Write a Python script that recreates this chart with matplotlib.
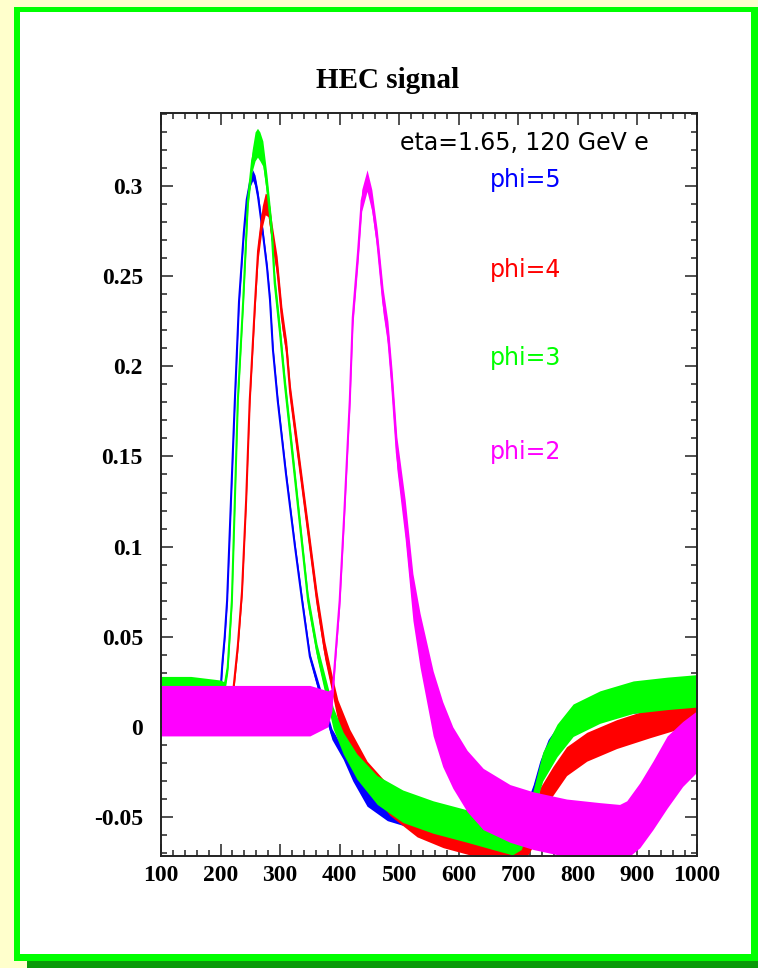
import numpy as np
import matplotlib
matplotlib.use("Agg")
import matplotlib.pyplot as plt
from matplotlib.patches import Rectangle
from matplotlib.ticker import MultipleLocator, FuncFormatter

# canvas size in pixels
W, H = 758, 968

# phi=5 (blue) : time, amplitude, noise half-width
x_phi5 = [100, 150, 195, 200, 203, 207, 211, 218, 224, 231, 239, 244, 250, 254, 258, 263,
          271, 278, 283, 288, 296, 310, 325, 337, 350, 367, 387, 406, 422, 446, 480, 520,
          560, 600, 650, 690, 705, 715, 725, 736, 750, 780, 820, 880, 950, 1000]
y_phi5 = [0.015, 0.015, 0.016, 0.020, 0.035, 0.050, 0.070, 0.130, 0.181, 0.236, 0.274, 0.2925,
          0.303, 0.306, 0.303, 0.294, 0.274, 0.255, 0.237, 0.209, 0.181, 0.140, 0.100, 0.070,
          0.039, 0.019, -0.004, -0.015, -0.026, -0.039, -0.046, -0.050, -0.053, -0.056, -0.059,
          -0.061, -0.052, -0.045, -0.036, -0.024, -0.013, 0.000, 0.008, 0.014, 0.017, 0.019]
w_phi5 = [0.008, 0.008, 0.006, 0.003, 0.002, 0.002, 0.002, 0.002, 0.002, 0.002, 0.002, 0.003,
          0.003, 0.003, 0.003, 0.003, 0.002, 0.002, 0.002, 0.002, 0.002, 0.002, 0.002, 0.002,
          0.002, 0.003, 0.003, 0.003, 0.004, 0.005, 0.006, 0.006, 0.006, 0.007, 0.007, 0.007,
          0.004, 0.004, 0.004, 0.005, 0.006, 0.007, 0.007, 0.007, 0.007, 0.007]

# phi=4 (red)
x_phi4 = [100, 150, 210, 216, 221, 229, 236, 243, 249, 258, 263, 270, 275, 280, 286, 295,
          303, 311, 317, 362, 375, 387, 397, 417, 446, 484, 530, 574, 641, 700, 725, 736,
          758, 781, 815, 865, 921, 976, 1000]
y_phi4 = [0.012, 0.012, 0.012, 0.014, 0.019, 0.045, 0.075, 0.126, 0.181, 0.236, 0.264, 0.283,
          0.290, 0.289, 0.274, 0.255, 0.227, 0.209, 0.185, 0.070, 0.0425, 0.024, 0.009, -0.0074,
          -0.026, -0.041, -0.052, -0.058, -0.064, -0.071, -0.058, -0.041, -0.030, -0.019,
          -0.011, -0.004, 0.002, 0.0075, 0.0075]
w_phi4 = [0.010, 0.010, 0.009, 0.004, 0.003, 0.003, 0.003, 0.003, 0.003, 0.004, 0.005, 0.006,
          0.006, 0.006, 0.006, 0.006, 0.006, 0.005, 0.005, 0.005, 0.005, 0.005, 0.006, 0.006,
          0.007, 0.008, 0.009, 0.009, 0.009, 0.009, 0.008, 0.007, 0.008, 0.008, 0.008, 0.008,
          0.008, 0.008, 0.008]

# phi=3 (green)
x_phi3 = [100, 150, 200, 206, 212, 219, 229, 238, 246, 253, 258, 262, 266, 271, 278, 286,
          291, 300, 308, 347, 362, 375, 389, 406, 429, 463, 506, 557, 614, 657, 690, 705,
          715, 725, 741, 765, 792, 837, 893, 950, 1000]
y_phi3 = [0.018, 0.018, 0.018, 0.021, 0.033, 0.070, 0.181, 0.236, 0.292, 0.314, 0.322, 0.324,
          0.322, 0.318, 0.300, 0.274, 0.246, 0.218, 0.190, 0.070, 0.042, 0.024, 0.005, -0.009,
          -0.022, -0.035, -0.044, -0.050, -0.055, -0.059, -0.062, -0.060, -0.052, -0.041,
          -0.022, -0.0075, 0.0037, 0.011, 0.0165, 0.0186, 0.020]
w_phi3 = [0.010, 0.010, 0.008, 0.004, 0.003, 0.003, 0.003, 0.003, 0.004, 0.006, 0.008, 0.008,
          0.008, 0.007, 0.006, 0.006, 0.005, 0.005, 0.005, 0.004, 0.004, 0.005, 0.006, 0.006,
          0.007, 0.008, 0.009, 0.009, 0.009, 0.009, 0.009, 0.008, 0.006, 0.006, 0.008, 0.009,
          0.009, 0.009, 0.009, 0.009, 0.009]

# phi=2 (magenta)
x_phi2 = [100, 150, 200, 250, 300, 350, 380, 387, 393, 400, 408, 417, 422, 431, 437, 446,
          454, 463, 473, 481, 488, 496, 510, 523, 535, 557, 573, 590, 614, 641, 686, 725,
          781, 837, 870, 882, 904, 926, 950, 976, 1000]
y_phi2 = [0.009, 0.009, 0.009, 0.009, 0.009, 0.009, 0.010, 0.015, 0.040, 0.070, 0.120, 0.181,
          0.227, 0.264, 0.292, 0.303, 0.292, 0.270, 0.236, 0.218, 0.190, 0.152, 0.115, 0.072,
          0.048, 0.013, -0.004, -0.017, -0.030, -0.040, -0.048, -0.052, -0.056, -0.058,
          -0.059, -0.057, -0.049, -0.038, -0.025, -0.015, -0.008]
w_phi2 = [0.014, 0.014, 0.014, 0.014, 0.014, 0.014, 0.010, 0.006, 0.004, 0.004, 0.004, 0.004,
          0.005, 0.006, 0.006, 0.006, 0.006, 0.006, 0.007, 0.007, 0.008, 0.009, 0.011, 0.013,
          0.015, 0.018, 0.018, 0.017, 0.017, 0.017, 0.016, 0.016, 0.016, 0.016, 0.016, 0.016,
          0.018, 0.019, 0.020, 0.018, 0.017]

series = [
    (x_phi5, y_phi5, w_phi5, "#0000FF", "phi=5", 0.3033),
    (x_phi4, y_phi4, w_phi4, "#FF0000", "phi=4", 0.2534),
    (x_phi3, y_phi3, w_phi3, "#00FF00", "phi=3", 0.2045),
    (x_phi2, y_phi2, w_phi2, "#FF00FF", "phi=2", 0.1524),
]

fig = plt.figure(figsize=(W / 100, H / 100), dpi=100)
fig.patch.set_facecolor("#FFFFCC")


def px_rect(x0, y0, x1, y1, color):
    # rectangle given in pixel coords (origin top-left)
    fig.add_artist(Rectangle((x0 / W, 1 - y1 / H), (x1 - x0) / W, (y1 - y0) / H,
                             transform=fig.transFigure, facecolor=color,
                             edgecolor="none", zorder=-10))


# ROOT style canvas frame with shadow
px_rect(27, 950, 760, 968, "#0A9A0A")
px_rect(13.5, 7, 760, 961, "#00FF00")
px_rect(19.5, 12, 750.5, 954, "white")

ax = fig.add_axes([161 / W, 1 - 856 / H, 536 / W, 743 / H])
ax.set_facecolor("white")

for i, (x, y, w, color, label, ty) in enumerate(series):
    x = np.array(x)
    y = np.array(y)
    w = np.array(w)
    ax.fill_between(x, y - w, y + w, color=color, lw=0, zorder=2 + 2 * i)
    ax.plot(x, y, color=color, lw=1.5, zorder=3 + 2 * i)
    ax.text(652, ty, label, color=color, fontsize=17, family="DejaVu Sans",
            ha="left", va="center")

ax.text(501, 0.324, "eta=1.65, 120 GeV e", color="black", fontsize=17,
        family="DejaVu Sans", ha="left", va="center")

ax.set_xlim(100, 1000)
ax.set_ylim(-0.0716, 0.3405)

ax.xaxis.set_major_locator(MultipleLocator(100))
ax.xaxis.set_minor_locator(MultipleLocator(20))
ax.yaxis.set_major_locator(MultipleLocator(0.05))
ax.yaxis.set_minor_locator(MultipleLocator(0.01))
ax.yaxis.set_major_formatter(FuncFormatter(lambda v, p: "%g" % (round(v, 3) + 0.0)))

ax.tick_params(which="both", direction="in", top=True, right=True,
               color="#333333", width=1.2)
ax.tick_params(which="major", length=8.5)
ax.tick_params(which="minor", length=4.3)
ax.tick_params(axis="y", pad=13)
ax.tick_params(axis="x", pad=6.5)
for lab in ax.get_xticklabels() + ax.get_yticklabels():
    lab.set_family("Liberation Serif")
    lab.set_weight("bold")
    lab.set_fontsize(17)
for sp in ax.spines.values():
    sp.set_linewidth(1.4)
    sp.set_color("#222222")
    sp.set_zorder(20)

fig.text(388 / W, 1 - 80 / H, "HEC signal", ha="center", va="center",
         family="Liberation Serif", weight="bold", fontsize=21)

fig.savefig("out.png", dpi=100)
